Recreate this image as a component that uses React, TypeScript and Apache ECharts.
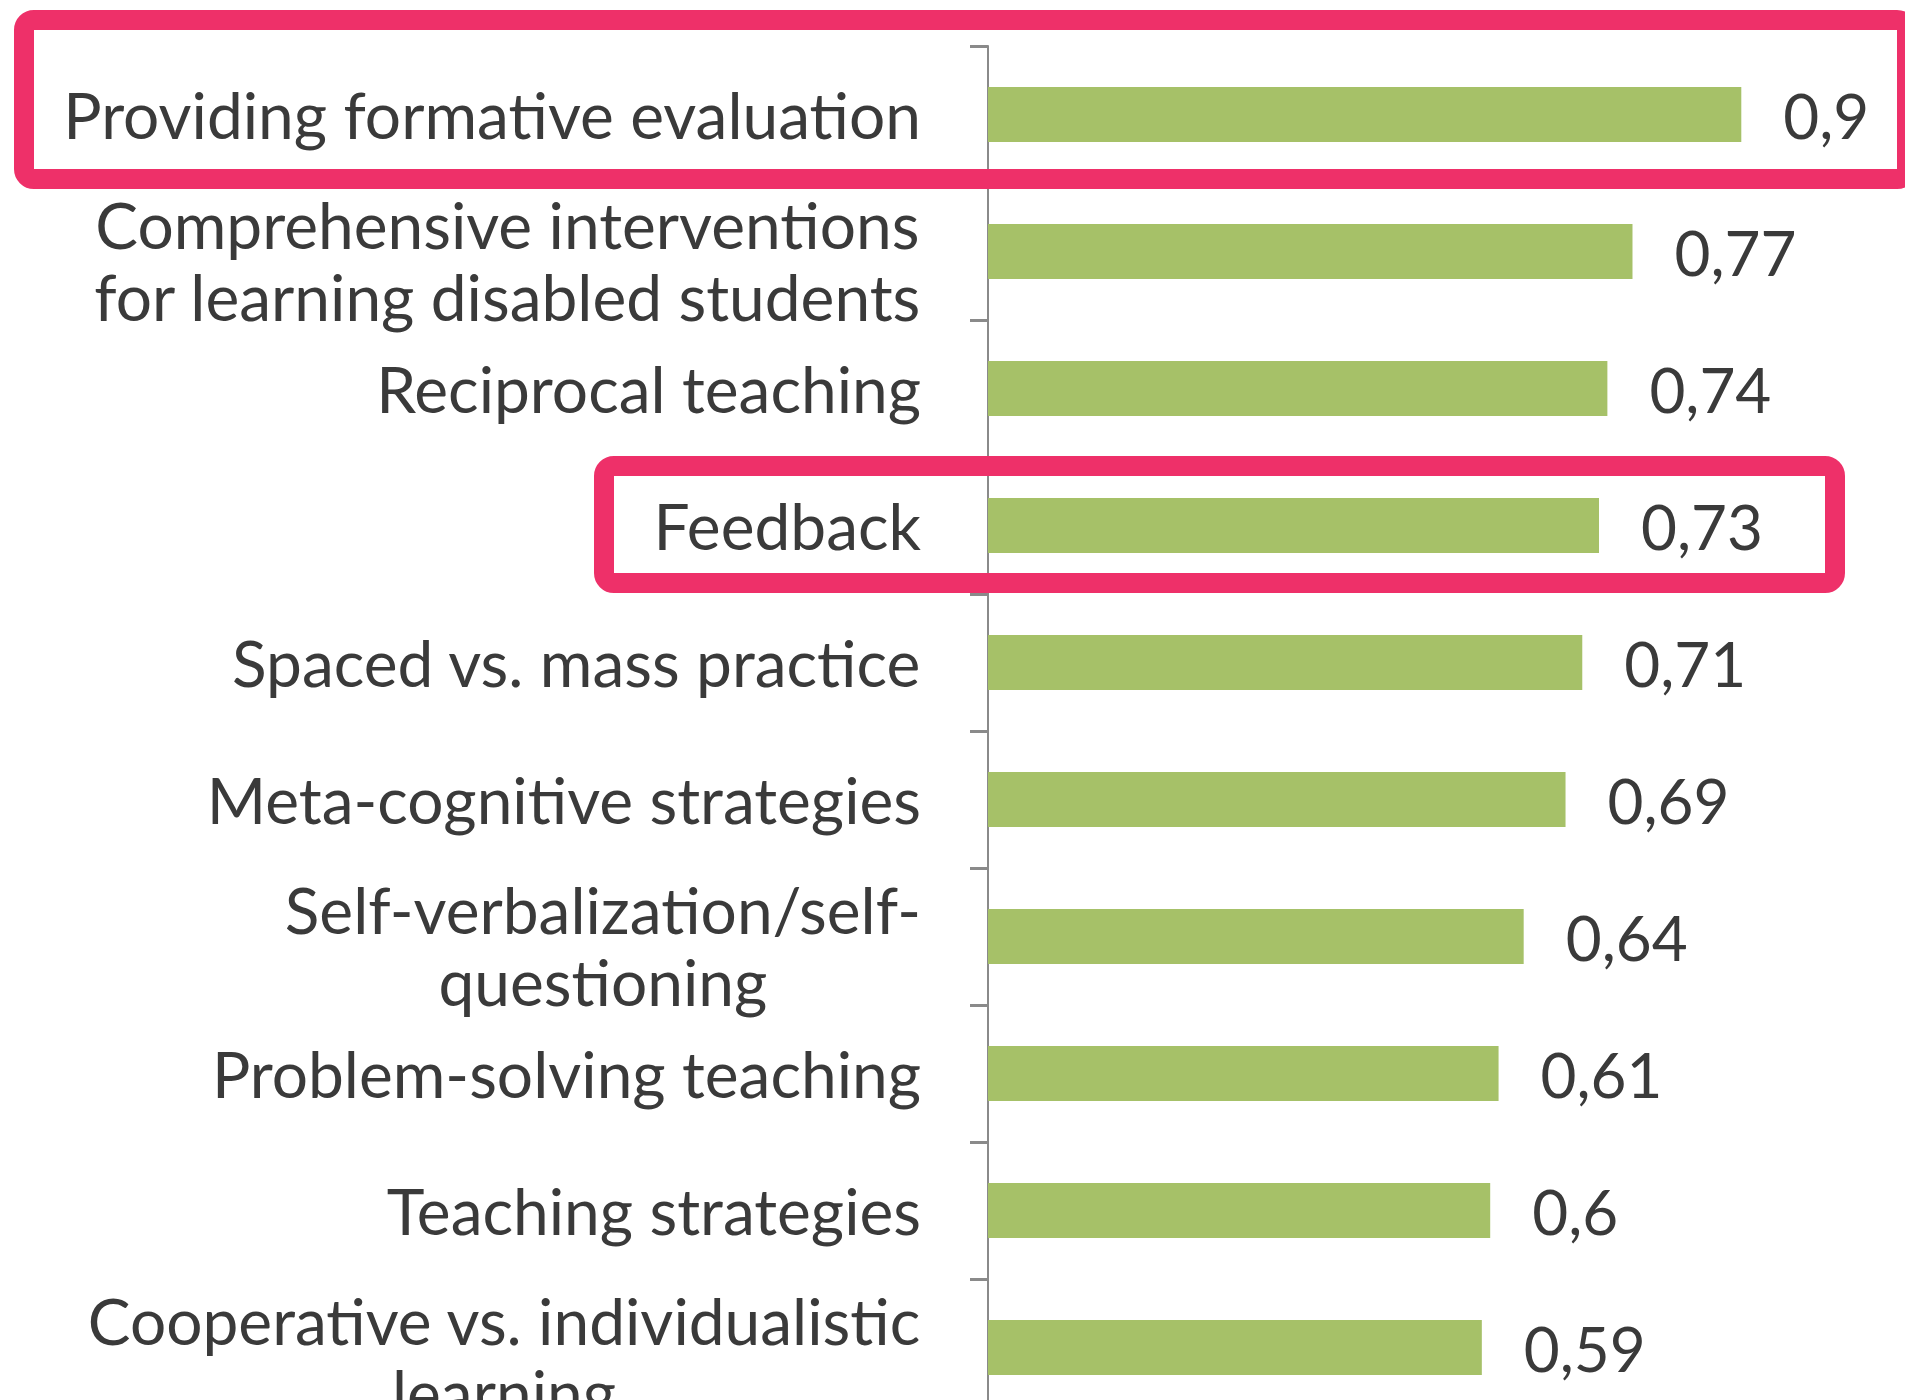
import React, { useEffect, useRef } from "react";
import * as echarts from "echarts";

const categories: string[] = [
  "Providing formative evaluation",
  "Comprehensive interventions\nfor learning disabled students",
  "Reciprocal teaching",
  "Feedback",
  "Spaced vs. mass practice",
  "Meta-cognitive strategies",
  "Self-verbalization/self-\nquestioning",
  "Problem-solving teaching",
  "Teaching strategies",
  "Cooperative vs. individualistic\nlearning",
];

const values: number[] = [0.9, 0.77, 0.74, 0.73, 0.71, 0.69, 0.64, 0.61, 0.6, 0.59];

const FONT = "Lato";
const TEXT = "#3a3a3a";
const PINK = "#ee3069";
const LABEL_SIZE = 64;

export default function App() {
  const ref = useRef<HTMLDivElement>(null);

  useEffect(() => {
    document.body.style.margin = "0";
    if (!ref.current) return;
    const chart = echarts.init(ref.current, null, { renderer: "svg" });
    const baseRich = {
      align: "center",
      fontFamily: FONT,
      fontSize: LABEL_SIZE,
      color: TEXT,
      lineHeight: 74,
    };
    chart.setOption({
      animation: false,
      backgroundColor: "#ffffff",
      grid: {
        left: 988,
        top: 46,
        width: 837,
        height: 1370,
        containLabel: false,
        outerBoundsMode: "none",
      },
      xAxis: {
        type: "value",
        min: 0,
        max: 1,
        show: false,
      },
      yAxis: {
        type: "category",
        inverse: true,
        data: categories,
        axisLine: { show: true, lineStyle: { color: "#8a8a8a", width: 2 } },
        axisTick: { show: true, length: 18, lineStyle: { color: "#8a8a8a", width: 3 } },
        splitLine: { show: false },
        axisLabel: {
          margin: 67,
          align: "right",
          fontFamily: FONT,
          fontSize: LABEL_SIZE,
          color: TEXT,
          lineHeight: 74,
          formatter: (v: string) => {
            const lines = v.split("\n");
            if (lines.length === 1) return `{c|${lines[0]}}`;
            return lines.map((l, i) => (i === 0 ? `{f|${l}}` : `{s|${l}}`)).join("\n");
          },
          rich: {
            c: { ...baseRich },
            f: { ...baseRich, padding: [20, 0, 0, 0] },
            s: { ...baseRich, padding: [15, 0, 0, 0] },
          },
        },
      },
      series: [
        {
          type: "bar",
          data: values,
          barWidth: 55,
          itemStyle: { color: "#a6c168" },
          label: {
            show: true,
            position: "right",
            distance: 42,
            fontFamily: FONT,
            fontSize: 62,
            color: TEXT,
            formatter: (p: any) => String(p.value).replace(".", ","),
          },
        },
      ],
      graphic: [
        {
          type: "rect",
          z: 100,
          shape: { x: 24, y: 20, width: 1883, height: 159, r: 10 },
          style: { fill: "none", stroke: PINK, lineWidth: 20 },
        },
        {
          type: "rect",
          z: 100,
          shape: { x: 604, y: 466, width: 1231, height: 117, r: 10 },
          style: { fill: "none", stroke: PINK, lineWidth: 20 },
        },
      ],
    });
    return () => chart.dispose();
  }, []);

  return (
    <div
      ref={ref}
      style={{ position: "absolute", left: 0, top: 0, width: 1905, height: 1400 }}
    />
  );
}
